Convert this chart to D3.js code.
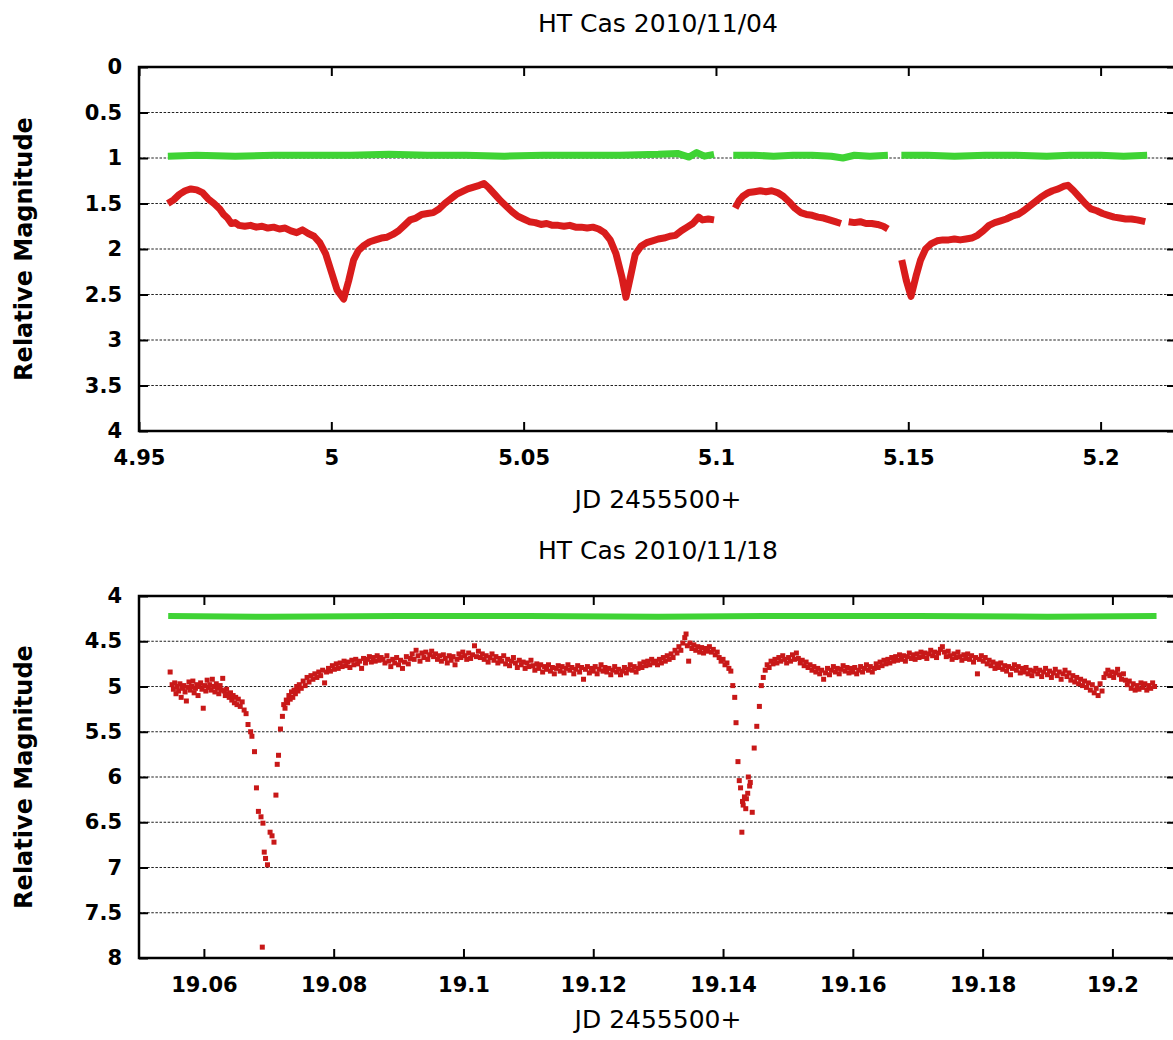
<!DOCTYPE html>
<html>
<head>
<meta charset="utf-8">
<script src="https://cdn.jsdelivr.net/npm/d3@7"></script>
<style>
  html, body { margin: 0; padding: 0; background: #fff; }
  svg { display: block; }
  text { font-family: "DejaVu Sans", sans-serif; fill: #000; }
  .tick text { font-family: "DejaVu Sans", sans-serif; font-weight: bold; font-size: 21px; fill: #000; }
  .title, .axis-label { font-size: 25px; }
  .y-label { font-size: 24px; font-weight: bold; }
</style>
</head>
<body>
<svg id="chart" width="1173" height="1040"></svg>
<script>
"use strict";

/*
    HT Cas light curves, two nights.
    Red = variable, green = comparison star. Magnitudes are relative.
*/

// --- shared ---
const xLabel = "JD 2455500+"
const yLabel = "Relative Magnitude"

// --- night 1: 2010/11/04 ---
const night1Title = "HT Cas 2010/11/04"
const night1XTicks = [4.95, 5, 5.05, 5.1, 5.15, 5.2]
const night1YTicks = [0, 0.5, 1, 1.5, 2, 2.5, 3, 3.5, 4]
const night1XDomain = [4.95, 5.2196]
const night1YDomain = [0, 4]

// variable star, one array per unbroken run
const night1Variable = [
    [[4.9575,1.50],[4.9590,1.46],[4.9605,1.40],[4.9620,1.36],[4.9635,1.34],[4.9650,1.35],[4.9665,1.38],
     [4.9680,1.45],[4.9695,1.50],[4.9710,1.56],[4.9720,1.62],[4.9730,1.66],[4.9740,1.72],[4.9750,1.71],
     [4.9760,1.74],[4.9775,1.75],[4.9790,1.74],[4.9805,1.76],[4.9820,1.75],[4.9835,1.77],[4.9850,1.76],
     [4.9865,1.78],[4.9880,1.77],[4.9895,1.80],[4.9910,1.82],[4.9925,1.79],[4.9940,1.83],[4.9955,1.86],
     [4.9970,1.93],[4.9985,2.05],[5.0000,2.25],[5.0015,2.45],[5.0032,2.55],[5.0045,2.35],[5.0058,2.12],
     [5.0070,2.02],[5.0085,1.96],[5.0100,1.92],[5.0115,1.90],[5.0130,1.88],[5.0145,1.87],[5.0160,1.84],
     [5.0175,1.80],[5.0190,1.74],[5.0205,1.68],[5.0220,1.66],[5.0235,1.62],[5.0250,1.61],[5.0265,1.60],
     [5.0280,1.56],[5.0295,1.50],[5.0310,1.45],[5.0325,1.40],[5.0340,1.37],[5.0355,1.34],[5.0370,1.32],
     [5.0385,1.30],[5.0397,1.28],[5.0410,1.33],[5.0425,1.40],[5.0440,1.47],[5.0455,1.53],[5.0470,1.59],
     [5.0485,1.64],[5.0500,1.67],[5.0515,1.70],[5.0530,1.71],[5.0545,1.73],[5.0560,1.72],[5.0575,1.74],
     [5.0590,1.74],[5.0605,1.75],[5.0620,1.74],[5.0635,1.76],[5.0650,1.76],[5.0665,1.77],[5.0680,1.76],
     [5.0695,1.78],[5.0710,1.82],[5.0725,1.90],[5.0740,2.05],[5.0755,2.30],[5.0766,2.53],[5.0778,2.30],
     [5.0790,2.06],[5.0805,1.97],[5.0820,1.93],[5.0835,1.91],[5.0850,1.89],[5.0865,1.88],[5.0880,1.86],
     [5.0895,1.85],[5.0910,1.80],[5.0925,1.76],[5.0940,1.72],[5.0955,1.65],[5.0965,1.68],[5.0980,1.67],
     [5.0995,1.68]],
    [[5.1050,1.55],[5.1060,1.47],[5.1070,1.42],[5.1085,1.38],[5.1100,1.37],[5.1115,1.36],[5.1130,1.37],
     [5.1145,1.36],[5.1160,1.38],[5.1175,1.42],[5.1190,1.48],[5.1205,1.55],[5.1220,1.60],[5.1235,1.62],
     [5.1250,1.63],[5.1265,1.65],[5.1280,1.66],[5.1295,1.68],[5.1310,1.70],[5.1325,1.72]],
    [[5.1345,1.70],[5.1360,1.71],[5.1375,1.70],[5.1390,1.72],[5.1405,1.72],[5.1420,1.73],[5.1435,1.75],
     [5.1447,1.78]],
    [[5.1483,2.12],[5.1495,2.35],[5.1507,2.52],[5.1520,2.30],[5.1532,2.12],[5.1545,2.00],[5.1560,1.94],
     [5.1575,1.91],[5.1590,1.90],[5.1605,1.90],[5.1620,1.89],[5.1635,1.90],[5.1650,1.89],[5.1665,1.88],
     [5.1680,1.85],[5.1695,1.80],[5.1710,1.74],[5.1725,1.71],[5.1740,1.69],[5.1755,1.67],[5.1770,1.64],
     [5.1785,1.62],[5.1800,1.58],[5.1815,1.53],[5.1830,1.48],[5.1845,1.43],[5.1860,1.39],[5.1875,1.36],
     [5.1890,1.34],[5.1905,1.31],[5.1915,1.30],[5.1930,1.36],[5.1945,1.43],[5.1960,1.50],[5.1975,1.56],
     [5.1990,1.58],[5.2005,1.61],[5.2020,1.63],[5.2035,1.65],[5.2050,1.66],[5.2065,1.67],[5.2080,1.67],
     [5.2095,1.68],[5.2116,1.70]]
]

// comparison star
const night1Comparison = [
    [[4.9575,0.98],[4.9650,0.97],[4.9750,0.98],[4.9850,0.97],[4.9950,0.97],[5.0050,0.97],[5.0150,0.96],
     [5.0250,0.97],[5.0350,0.97],[5.0450,0.98],[5.0550,0.97],[5.0650,0.97],[5.0750,0.97],[5.0850,0.96],
     [5.0900,0.95],[5.0930,0.99],[5.0950,0.94],[5.0970,0.98],[5.0995,0.96]],
    [[5.1045,0.97],[5.1100,0.97],[5.1150,0.98],[5.1200,0.97],[5.1250,0.97],[5.1300,0.98],[5.1330,1.00],
     [5.1360,0.97],[5.1400,0.98],[5.1447,0.97]],
    [[5.1482,0.97],[5.1550,0.97],[5.1620,0.98],[5.1700,0.97],[5.1780,0.97],[5.1860,0.98],[5.1920,0.97],
     [5.2000,0.97],[5.2060,0.98],[5.2121,0.97]]
]

// --- night 2: 2010/11/18 ---
const night2Title = "HT Cas 2010/11/18"
const night2XTicks = [19.06, 19.08, 19.1, 19.12, 19.14, 19.16, 19.18, 19.2]
const night2YTicks = [4, 4.5, 5, 5.5, 6, 6.5, 7, 7.5, 8]
const night2XDomain = [19.05, 19.2098]
const night2YDomain = [4, 8]

const night2Variable = [
    [19.0548,4.84],[19.0551,4.98],[19.0553,5.03],[19.0555,4.96],[19.0557,5.08],[19.0559,5.00],[19.0561,5.05],
    [19.0563,4.97],[19.0565,5.12],[19.0567,5.02],[19.0569,4.99],[19.0571,5.06],[19.0573,5.16],[19.0575,5.01],
    [19.0577,4.95],[19.0579,5.04],[19.0581,5.00],[19.0583,4.94],[19.0585,5.07],[19.0587,5.02],[19.0589,4.98],
    [19.0591,5.10],[19.0593,5.00],[19.0595,4.96],[19.0597,5.03],[19.0599,5.24],[19.0601,4.99],[19.0603,5.05],
    [19.0605,4.93],[19.0607,5.01],[19.0609,4.98],[19.0611,5.04],[19.0613,4.92],[19.0615,5.00],[19.0617,5.06],
    [19.0619,4.97],[19.0621,5.02],[19.0623,5.08],[19.0625,4.99],[19.0627,5.04],[19.0629,4.91],[19.0631,5.05],
    [19.0633,5.10],[19.0635,5.03],[19.0637,5.08],[19.0639,5.12],[19.0641,5.07],[19.0643,5.15],[19.0645,5.10],
    [19.0647,5.18],[19.0649,5.12],[19.0651,5.20],[19.0653,5.14],[19.0656,5.22],[19.0659,5.17],[19.0662,5.26],
    [19.0665,5.30],[19.0668,5.42],[19.0672,5.50],[19.0674,5.55],[19.0678,5.72],[19.0681,6.12],[19.0684,6.38],
    [19.0688,6.44],[19.0690,7.88],[19.0691,6.51],[19.0693,6.83],[19.0695,6.90],[19.0698,6.97],[19.0702,6.61],
    [19.0705,6.65],[19.0708,6.72],[19.0711,6.20],[19.0713,5.86],[19.0715,5.76],[19.0718,5.47],[19.0721,5.33],
    [19.0723,5.20],[19.0725,5.24],[19.0727,5.15],[19.0729,5.18],[19.0731,5.10],[19.0733,5.14],[19.0735,5.06],
    [19.0737,5.12],[19.0739,5.04],[19.0741,5.08],[19.0743,5.00],[19.0745,5.05],[19.0747,4.98],[19.0750,5.02],
    [19.0753,4.94],[19.0756,4.99],[19.0759,4.90],[19.0762,4.95],[19.0765,4.88],[19.0768,4.92],[19.0771,4.86],
    [19.0774,4.90],[19.0777,4.84],[19.0780,4.88],[19.0783,4.82],[19.0786,4.96],[19.0789,4.84],[19.0792,4.80],
    [19.0795,4.83],[19.0798,4.77],[19.0801,4.81],[19.0804,4.75],[19.0807,4.80],[19.0810,4.74],[19.0813,4.78],
    [19.0816,4.72],[19.0819,4.77],[19.0822,4.73],[19.0825,4.79],[19.0828,4.71],[19.0831,4.76],[19.0834,4.70],
    [19.0837,4.75],[19.0840,4.72],[19.0843,4.80],[19.0846,4.69],[19.0849,4.74],[19.0852,4.70],[19.0855,4.67],
    [19.0858,4.73],[19.0861,4.68],[19.0864,4.72],[19.0867,4.66],[19.0870,4.71],[19.0873,4.68],[19.0876,4.70],
    [19.0879,4.74],[19.0882,4.66],[19.0885,4.72],[19.0888,4.78],[19.0891,4.70],[19.0894,4.74],[19.0897,4.68],
    [19.0900,4.76],[19.0903,4.71],[19.0906,4.80],[19.0909,4.73],[19.0912,4.67],[19.0915,4.75],[19.0918,4.69],
    [19.0921,4.64],[19.0924,4.70],[19.0927,4.60],[19.0930,4.66],[19.0933,4.72],[19.0936,4.63],[19.0939,4.68],
    [19.0942,4.62],[19.0945,4.70],[19.0948,4.65],[19.0951,4.61],[19.0954,4.67],[19.0957,4.64],[19.0960,4.70],
    [19.0963,4.66],[19.0966,4.72],[19.0969,4.65],[19.0972,4.69],[19.0975,4.74],[19.0978,4.66],[19.0981,4.71],
    [19.0984,4.67],[19.0987,4.76],[19.0990,4.70],[19.0993,4.64],[19.0996,4.68],[19.0999,4.62],[19.1002,4.66],
    [19.1005,4.70],[19.1008,4.63],[19.1011,4.69],[19.1014,4.65],[19.1017,4.55],[19.1020,4.67],[19.1023,4.61],
    [19.1026,4.68],[19.1029,4.64],[19.1032,4.70],[19.1035,4.66],[19.1038,4.73],[19.1041,4.68],[19.1044,4.64],
    [19.1047,4.71],[19.1050,4.67],[19.1053,4.74],[19.1056,4.69],[19.1059,4.72],[19.1062,4.66],[19.1065,4.75],
    [19.1068,4.70],[19.1071,4.77],[19.1074,4.72],[19.1077,4.68],[19.1080,4.74],[19.1083,4.79],[19.1086,4.71],
    [19.1089,4.76],[19.1092,4.73],[19.1095,4.80],[19.1098,4.74],[19.1101,4.78],[19.1104,4.71],[19.1107,4.77],
    [19.1110,4.82],[19.1113,4.75],[19.1116,4.80],[19.1119,4.76],[19.1122,4.84],[19.1125,4.78],[19.1128,4.81],
    [19.1131,4.76],[19.1134,4.83],[19.1137,4.79],[19.1140,4.86],[19.1143,4.80],[19.1146,4.77],[19.1149,4.83],
    [19.1152,4.78],[19.1155,4.85],[19.1158,4.80],[19.1161,4.76],[19.1164,4.82],[19.1167,4.79],[19.1170,4.86],
    [19.1173,4.81],[19.1176,4.77],[19.1179,4.84],[19.1182,4.79],[19.1185,4.92],[19.1188,4.81],[19.1191,4.78],
    [19.1194,4.85],[19.1197,4.80],[19.1200,4.83],[19.1203,4.78],[19.1206,4.86],[19.1209,4.81],[19.1212,4.76],
    [19.1215,4.83],[19.1218,4.79],[19.1221,4.84],[19.1224,4.80],[19.1227,4.87],[19.1230,4.82],[19.1233,4.78],
    [19.1236,4.84],[19.1239,4.81],[19.1242,4.87],[19.1245,4.83],[19.1248,4.79],[19.1251,4.85],[19.1254,4.81],
    [19.1257,4.76],[19.1260,4.82],[19.1263,4.78],[19.1266,4.84],[19.1269,4.80],[19.1272,4.75],[19.1275,4.79],
    [19.1278,4.73],[19.1281,4.77],[19.1284,4.72],[19.1287,4.76],[19.1290,4.70],[19.1293,4.74],[19.1296,4.72],
    [19.1299,4.76],[19.1302,4.70],[19.1305,4.74],[19.1308,4.68],[19.1311,4.72],[19.1314,4.66],[19.1317,4.70],
    [19.1320,4.64],[19.1323,4.68],[19.1326,4.60],[19.1329,4.63],[19.1332,4.56],[19.1335,4.60],[19.1338,4.52],
    [19.1341,4.46],[19.1343,4.42],[19.1345,4.55],[19.1347,4.72],[19.1349,4.52],[19.1352,4.58],[19.1355,4.54],
    [19.1358,4.60],[19.1361,4.56],[19.1364,4.62],[19.1367,4.57],[19.1370,4.63],[19.1373,4.58],[19.1376,4.61],
    [19.1379,4.56],[19.1382,4.62],[19.1385,4.59],[19.1388,4.65],[19.1391,4.62],[19.1394,4.68],[19.1397,4.72],
    [19.1400,4.70],[19.1403,4.76],[19.1406,4.74],[19.1409,4.80],[19.1412,4.83],[19.1415,4.99],[19.1418,5.12],
    [19.1420,5.40],[19.1423,5.83],[19.1425,6.04],[19.1427,6.12],[19.1429,6.61],[19.1430,6.27],[19.1431,6.31],
    [19.1433,6.22],[19.1435,6.35],[19.1436,6.24],[19.1438,6.18],[19.1439,6.00],[19.1441,6.10],[19.1442,6.06],
    [19.1445,6.39],[19.1448,5.68],[19.1452,5.44],[19.1456,5.22],[19.1459,4.99],[19.1462,4.90],[19.1465,4.82],
    [19.1468,4.76],[19.1471,4.79],[19.1474,4.72],[19.1477,4.75],[19.1480,4.70],[19.1483,4.74],[19.1486,4.68],
    [19.1489,4.72],[19.1492,4.66],[19.1495,4.70],[19.1498,4.74],[19.1501,4.68],[19.1504,4.72],[19.1507,4.65],
    [19.1510,4.70],[19.1513,4.63],[19.1516,4.69],[19.1519,4.74],[19.1522,4.71],[19.1525,4.77],[19.1528,4.73],
    [19.1531,4.79],[19.1534,4.76],[19.1537,4.82],[19.1540,4.78],[19.1543,4.84],[19.1546,4.80],[19.1549,4.86],
    [19.1552,4.82],[19.1555,4.92],[19.1558,4.85],[19.1561,4.80],[19.1564,4.87],[19.1567,4.82],[19.1570,4.78],
    [19.1573,4.84],[19.1576,4.80],[19.1579,4.86],[19.1582,4.81],[19.1585,4.77],[19.1588,4.83],[19.1591,4.79],
    [19.1594,4.85],[19.1597,4.80],[19.1600,4.84],[19.1603,4.79],[19.1606,4.86],[19.1609,4.82],[19.1612,4.78],
    [19.1615,4.84],[19.1618,4.80],[19.1621,4.76],[19.1624,4.82],[19.1627,4.78],[19.1630,4.84],[19.1633,4.80],
    [19.1636,4.75],[19.1639,4.79],[19.1642,4.73],[19.1645,4.77],[19.1648,4.71],[19.1651,4.75],[19.1654,4.70],
    [19.1657,4.74],[19.1660,4.68],[19.1663,4.72],[19.1666,4.67],[19.1669,4.71],[19.1672,4.65],[19.1675,4.70],
    [19.1678,4.66],[19.1681,4.72],[19.1684,4.67],[19.1687,4.63],[19.1690,4.69],[19.1693,4.65],[19.1696,4.70],
    [19.1699,4.64],[19.1702,4.68],[19.1705,4.62],[19.1708,4.67],[19.1711,4.63],[19.1714,4.69],[19.1717,4.64],
    [19.1720,4.60],[19.1723,4.66],[19.1726,4.62],[19.1729,4.68],[19.1732,4.63],[19.1735,4.59],[19.1738,4.56],
    [19.1741,4.62],[19.1744,4.67],[19.1747,4.61],[19.1750,4.66],[19.1753,4.70],[19.1756,4.64],[19.1759,4.68],
    [19.1762,4.62],[19.1765,4.67],[19.1768,4.71],[19.1771,4.65],[19.1774,4.69],[19.1777,4.64],[19.1780,4.70],
    [19.1783,4.66],[19.1786,4.73],[19.1789,4.68],[19.1792,4.86],[19.1795,4.70],[19.1798,4.66],[19.1801,4.72],
    [19.1804,4.68],[19.1807,4.75],[19.1810,4.71],[19.1813,4.77],[19.1816,4.73],[19.1819,4.80],[19.1822,4.75],
    [19.1825,4.79],[19.1828,4.74],[19.1831,4.81],[19.1834,4.77],[19.1837,4.83],[19.1840,4.78],[19.1843,4.87],
    [19.1846,4.80],[19.1849,4.76],[19.1852,4.82],[19.1855,4.78],[19.1858,4.85],[19.1861,4.80],[19.1864,4.84],
    [19.1867,4.79],[19.1870,4.86],[19.1873,4.82],[19.1876,4.88],[19.1879,4.83],[19.1882,4.80],[19.1885,4.86],
    [19.1888,4.82],[19.1891,4.89],[19.1894,4.84],[19.1897,4.80],[19.1900,4.87],[19.1903,4.83],[19.1906,4.90],
    [19.1909,4.85],[19.1912,4.81],[19.1915,4.88],[19.1918,4.84],[19.1921,4.92],[19.1924,4.86],[19.1927,4.82],
    [19.1930,4.89],[19.1933,4.85],[19.1936,4.93],[19.1939,4.88],[19.1942,4.95],[19.1945,4.90],[19.1948,4.97],
    [19.1951,4.92],[19.1954,4.99],[19.1957,4.94],[19.1960,5.01],[19.1963,4.96],[19.1966,5.04],[19.1969,4.98],
    [19.1972,5.07],[19.1975,5.02],[19.1978,5.10],[19.1981,4.97],[19.1984,5.05],[19.1987,4.90],[19.1990,4.86],
    [19.1993,4.82],[19.1996,4.88],[19.1999,4.84],[19.2002,4.90],[19.2005,4.85],[19.2008,4.81],[19.2011,4.87],
    [19.2014,4.92],[19.2017,4.86],[19.2020,4.93],[19.2023,4.98],[19.2026,4.94],[19.2029,5.02],[19.2032,4.97],
    [19.2035,5.04],[19.2038,4.99],[19.2041,5.03],[19.2044,4.96],[19.2047,5.01],[19.2050,4.97],[19.2053,5.04],
    [19.2056,4.99],[19.2059,5.02],[19.2062,4.96],[19.2065,5.00]
]

const night2Comparison = [
    [[19.0545,4.22],[19.0700,4.23],[19.0900,4.22],[19.1100,4.22],[19.1300,4.23],[19.1500,4.22],
     [19.1700,4.22],[19.1900,4.23],[19.2068,4.22]]
]

// --- layout ---
const plotLeft = 139
const plotRight = 1176
const titleX = 658
const redColor = "#d91c1c"
const greenColor = "#3fd335"

const svg = d3.select("#chart")

function drawPanel (p) {
    const x = d3.scaleLinear().domain(p.xDomain).range([plotLeft, plotRight])
    const y = d3.scaleLinear().domain(p.yDomain).range([p.top, p.bottom])
    const g = svg.append("g")

    // dotted grid at the inner y ticks
    g.append("g").selectAll("line")
        .data(p.yTicks.filter(v => v > p.yDomain[0] && v < p.yDomain[1]))
        .join("line")
        .attr("x1", plotLeft).attr("x2", plotRight)
        .attr("y1", d => y(d)).attr("y2", d => y(d))
        .attr("stroke", "#222")
        .attr("stroke-width", 1.2)
        .attr("stroke-dasharray", "2.5,1.6")

    const line = d3.line().x(d => x(d[0])).y(d => y(d[1]))

    // comparison star
    g.append("g").selectAll("path")
        .data(p.comparison)
        .join("path")
        .attr("d", line)
        .attr("fill", "none")
        .attr("stroke", greenColor)
        .attr("stroke-width", p.greenWidth)
        .attr("stroke-linejoin", "round")

    // variable star
    if (p.variableAsLine) {
        g.append("g").selectAll("path")
            .data(p.variable)
            .join("path")
            .attr("d", line)
            .attr("fill", "none")
            .attr("stroke", redColor)
            .attr("stroke-width", 7)
            .attr("stroke-linejoin", "round")
    } else {
        g.append("g").selectAll("rect")
            .data(p.variable)
            .join("rect")
            .attr("x", d => x(d[0]) - 2.5)
            .attr("y", d => y(d[1]) - 2.5)
            .attr("width", 5)
            .attr("height", 5)
            .attr("fill", "#c81818")
    }

    // axes, ticks pointing inward
    const fmt = d => String(d)
    const axB = g.append("g").attr("transform", `translate(0,${p.bottom})`)
        .call(d3.axisBottom(x).tickValues(p.xTicks).tickFormat(fmt).tickSize(-9).tickPadding(19))
    const axT = g.append("g").attr("transform", `translate(0,${p.top})`)
        .call(d3.axisTop(x).tickValues(p.xTicks).tickFormat("").tickSize(-9))
    const axL = g.append("g").attr("transform", `translate(${plotLeft},0)`)
        .call(d3.axisLeft(y).tickValues(p.yTicks).tickFormat(fmt).tickSize(-9).tickPadding(17))
    const axR = g.append("g").attr("transform", `translate(${plotRight},0)`)
        .call(d3.axisRight(y).tickValues(p.yTicks).tickFormat("").tickSize(-9))
    for (const ax of [axB, axT, axL, axR]) {
        ax.select(".domain").remove()
        ax.selectAll(".tick line").attr("stroke", "#000").attr("stroke-width", 2)
    }

    // border
    g.append("rect")
        .attr("x", plotLeft).attr("y", p.top)
        .attr("width", plotRight - plotLeft).attr("height", p.bottom - p.top)
        .attr("fill", "none")
        .attr("stroke", "#000")
        .attr("stroke-width", 2.5)

    // texts
    g.append("text").attr("class", "title")
        .attr("x", titleX).attr("y", p.titleY)
        .attr("text-anchor", "middle").attr("dominant-baseline", "central")
        .text(p.title)
    g.append("text").attr("class", "axis-label")
        .attr("x", titleX).attr("y", p.xLabelY)
        .attr("text-anchor", "middle").attr("dominant-baseline", "central")
        .text(xLabel)
    const cy = (p.top + p.bottom) / 2
    g.append("text").attr("class", "y-label")
        .attr("transform", `translate(24,${cy}) rotate(-90)`)
        .attr("text-anchor", "middle").attr("dominant-baseline", "central")
        .text(yLabel)
}

drawPanel({
    title: night1Title, xTicks: night1XTicks, yTicks: night1YTicks,
    xDomain: night1XDomain, yDomain: night1YDomain,
    variable: night1Variable, comparison: night1Comparison,
    variableAsLine: true, greenWidth: 7,
    top: 67, bottom: 431, titleY: 23, xLabelY: 499
})

drawPanel({
    title: night2Title, xTicks: night2XTicks, yTicks: night2YTicks,
    xDomain: night2XDomain, yDomain: night2YDomain,
    variable: night2Variable, comparison: night2Comparison,
    variableAsLine: false, greenWidth: 6,
    top: 596, bottom: 958, titleY: 550, xLabelY: 1019
})
</script>
</body>
</html>
